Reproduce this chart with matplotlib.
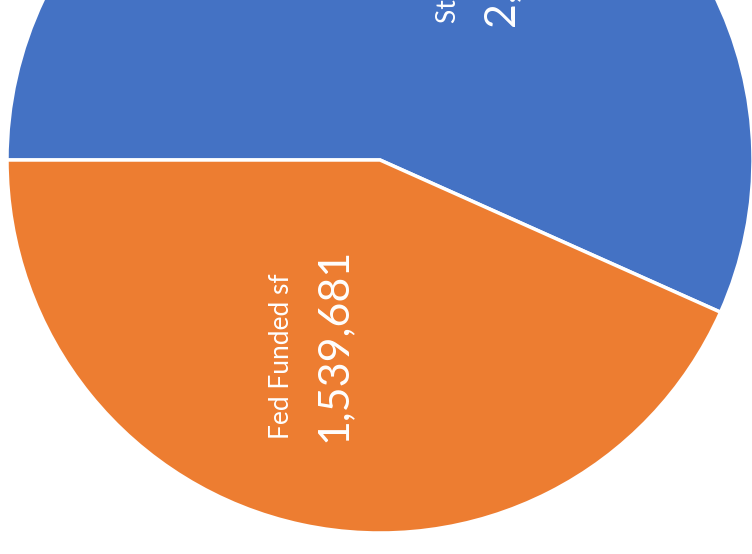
import numpy as np
import matplotlib
matplotlib.use("Agg")
import matplotlib.pyplot as plt

# funding split (square feet)
labels = ['State Funded sf', 'Fed Funded sf']
values = [2015400, 1539681]
colors = ['#4472C4', '#ED7D31']

plt.rcParams['font.family'] = ['Lato', 'DejaVu Sans']

fig = plt.figure(figsize=(7.52, 5.54), dpi=100)
ax = fig.add_axes([0, 0, 1, 1])

total = sum(values)
start = 180 - 360 * values[0] / total
wedges, _ = ax.pie(values, colors=colors, startangle=start, counterclock=True,
                   wedgeprops=dict(edgecolor='white', linewidth=2.5))

# chart is cropped: pie centre sits near the top of the picture
ax.set_xlim(-380 / 373, 372 / 373)
ax.set_ylim(-394 / 373, 160 / 373)
ax.set_aspect('equal')
ax.axis('off')

# rotated data labels, name on the left, value on the right (x centre, text start y)
label_pos = [(0.249, 0.36), (-0.2, -0.757)]
for lab, val, (cx, y0) in zip(labels, values, label_pos):
    ax.text(cx - 0.065, y0 + 0.008, lab, rotation=90, ha='center', va='bottom',
            color='white', fontsize=19)
    ax.text(cx + 0.075, y0, f'{val:,}', rotation=90, ha='center', va='bottom',
            color='white', fontsize=31)

fig.savefig('out.png', dpi=100)
